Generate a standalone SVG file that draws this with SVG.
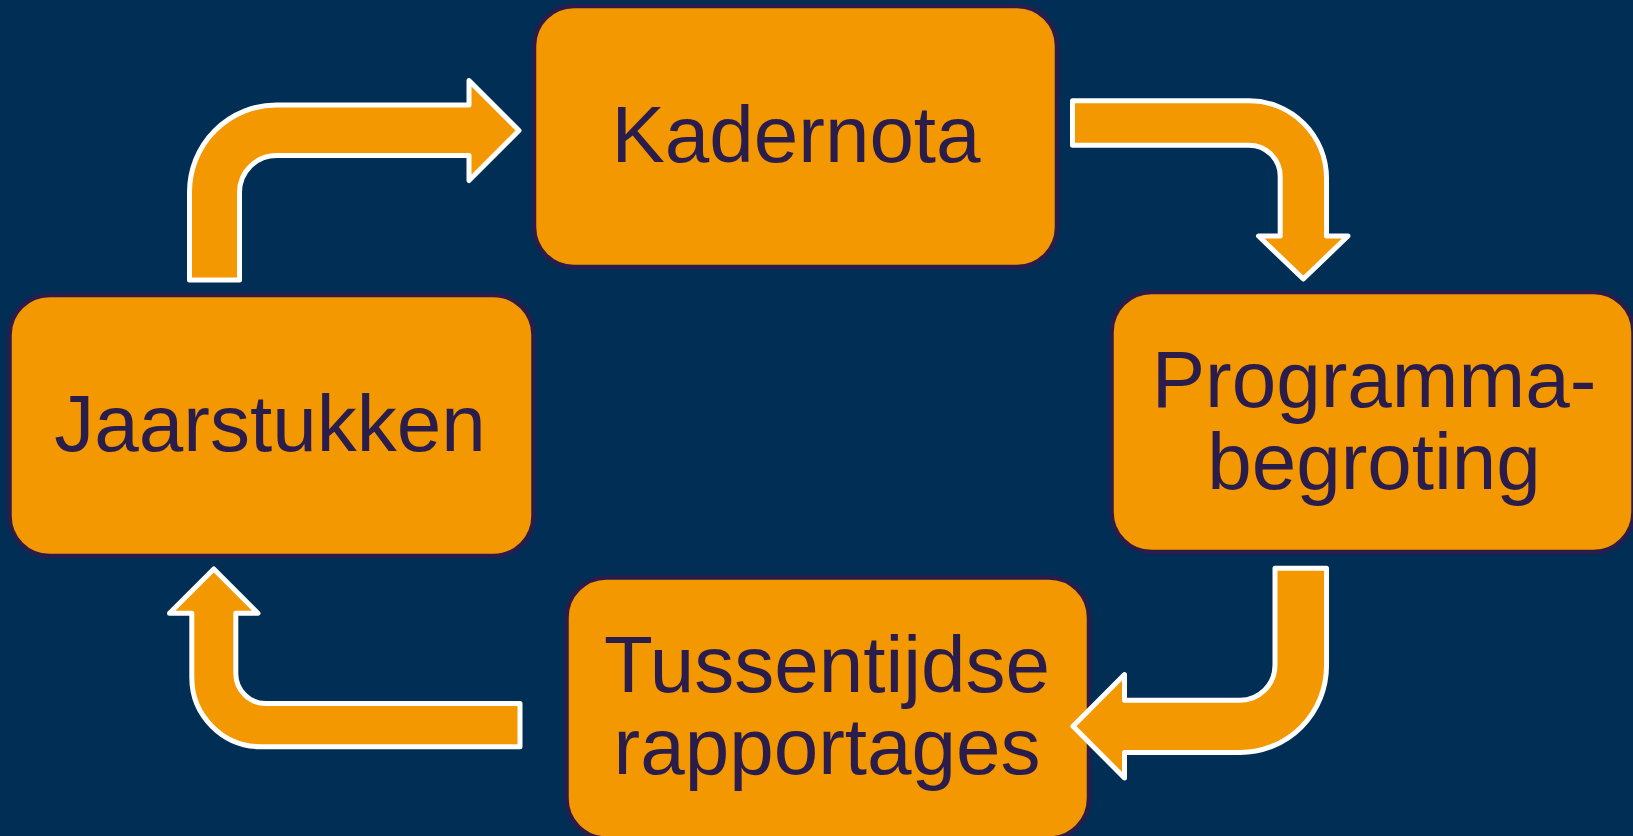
<svg xmlns="http://www.w3.org/2000/svg" width="1633" height="836" viewBox="0 0 1633 836">
<style>
.box{fill:#f39800;stroke:#2a1c4b;stroke-width:4.5}
.lbl{font-family:"Liberation Sans",Arial,sans-serif;font-size:80px;fill:#2a1c4b;text-anchor:middle}
.arr{fill:#f39800;stroke:#ffffff;stroke-width:5;stroke-linejoin:round}
</style>
<rect x="0" y="0" width="1633" height="836" fill="#012e55"/>
<g id="kadernota">
<rect class="box" x="534" y="6" width="523" height="261" rx="40" ry="40"/>
<text class="lbl" x="796" y="162">Kadernota</text>
</g>
<g id="jaarstukken">
<rect class="box" x="9.5" y="295" width="524" height="261" rx="40" ry="40"/>
<text class="lbl" x="270" y="451">Jaarstukken</text>
</g>
<g id="programmabegroting">
<rect class="box" x="1111.5" y="292" width="522" height="260" rx="40" ry="40"/>
<text class="lbl" x="1374" y="406.7">Programma-</text>
<text class="lbl" x="1374" y="489">begroting</text>
</g>
<g id="tussentijdse">
<rect class="box" x="566.5" y="577.5" width="522.5" height="261" rx="40" ry="40"/>
<text class="lbl" x="827" y="692.3">Tussentijdse</text>
<text class="lbl" x="827" y="774.3">rapportages</text>
</g>
<g id="connectors">
<path class="arr" d="M189.5,280 V192 A87,87 0 0 1 276.5,105 H469 V80.5 L519,130.5 L469,180.5 V155.5 H276.5 A37,37 0 0 0 239.5,192.5 V280 Z"/>
<path class="arr" d="M1072.5,100.8 H1249 A77.5,77.5 0 0 1 1326.5,178.3 V236 H1348 L1303.3,279 L1258.5,236 H1280.2 V176.4 A31.2,31.2 0 0 0 1249,145.2 H1072.5 Z"/>
<path class="arr" d="M1275,568.3 H1326.5 V666 A86.5,86.5 0 0 1 1240,752.5 H1124.5 V778 L1073,726.3 L1124.5,674.6 V700.2 H1240 A35,35 0 0 0 1275,665.2 Z"/>
<path class="arr" d="M520,703.5 V746.7 H261 A69.2,69.2 0 0 1 191.8,677.5 V613.3 H169.5 L213.8,569 L258,613.3 H235.8 V673.5 A30,30 0 0 0 265.8,703.5 Z"/>
</g>
</svg>
